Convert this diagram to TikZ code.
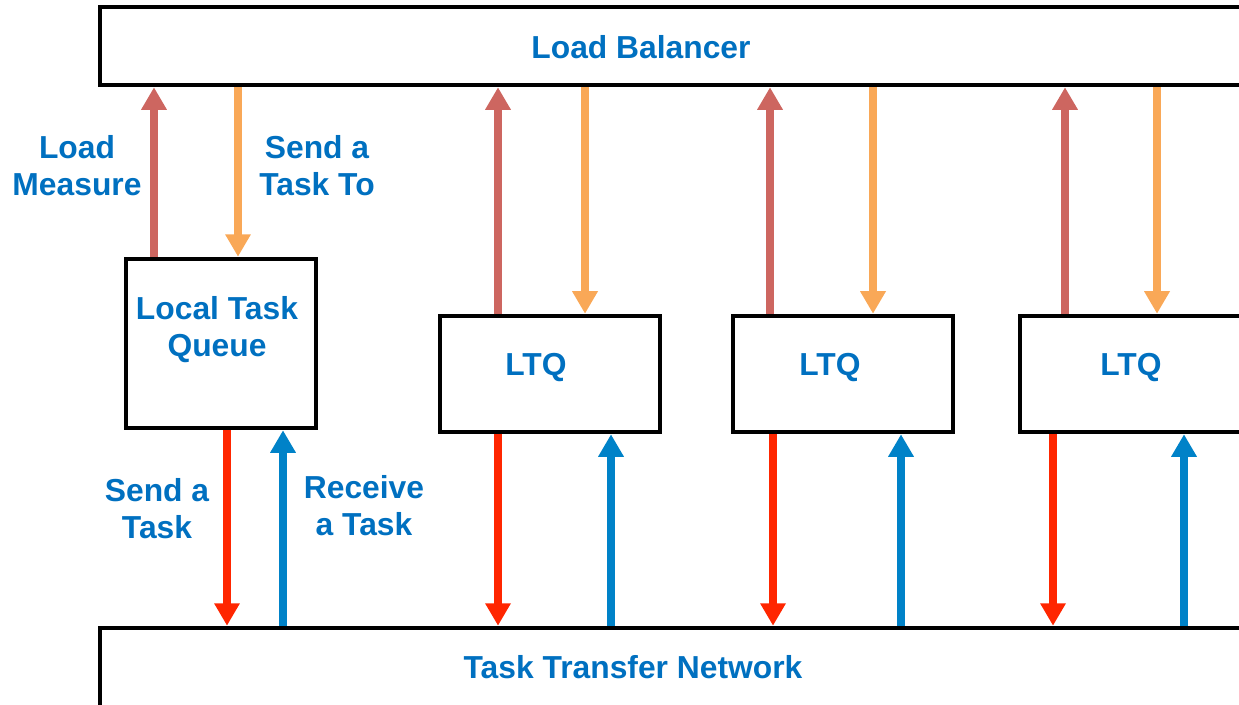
\documentclass[tikz,border=0pt]{standalone}
\usepackage{fontspec}
\setmainfont{Liberation Sans}
\usetikzlibrary{arrows.meta}
\definecolor{txtblue}{HTML}{0070C0}
\definecolor{measurered}{HTML}{CD6660}
\definecolor{sendorange}{HTML}{F9A857}
\definecolor{taskred}{HTML}{FF2600}
\definecolor{taskblue}{HTML}{0082C8}
\tikzset{
  box/.style={draw=black, line width=2.6pt, inner sep=0pt},
  lbl/.style={text=txtblue, font=\bfseries\fontsize{18.1}{21}\selectfont, align=center},
  arr/.style={line width=4.5pt, -{Triangle[width=13.8pt,length=12.8pt]}},
  measure/.style={arr, draw=measurered, fill=measurered},
  sendto/.style={arr, draw=sendorange, fill=sendorange},
  sendtask/.style={arr, draw=taskred, fill=taskred},
  gettask/.style={arr, draw=taskblue, fill=taskblue}
}
\begin{document}
\begin{tikzpicture}[x=0.02cm, y=-0.02cm]
	\useasboundingbox (0,0) rectangle (1239,704);
	\clip (0,0) rectangle (1239,704);

	% balancer and network
	\node[box, minimum width=26cm, minimum height=1.56cm] (lb) at (750,46) {};
	\node[lbl] (lbtxt) at (641,47) {Load Balancer};
	\node[box, minimum width=26cm, minimum height=3.04cm] (net) at (750,704) {};
	\node[lbl] (nettxt) at (633,667) {Task Transfer Network};

	% queues
	\node[box, minimum width=3.8cm, minimum height=3.38cm] (q1) at (221,343.5) {};
	\node[lbl] (q1txt) at (217,330) {Local Task\\Queue};
	\node[box, minimum width=4.4cm, minimum height=2.32cm] (q2) at (550,374) {};
	\node[lbl] (q2txt) at (536,368) {LTQ};
	\node[box, minimum width=4.4cm, minimum height=2.32cm] (q3) at (843,374) {};
	\node[lbl] (q3txt) at (830,368) {LTQ};
	\node[box, minimum width=4.8cm, minimum height=2.32cm] (q4) at (1140,374) {};
	\node[lbl] (q4txt) at (1131,368) {LTQ};

	% arrows to and from the balancer
	\draw[measure] (q1.north -| 154,0) -- (lb.south -| 154,0);
	\draw[sendto] (lb.south -| 238,0) -- (q1.north -| 238,0);
	\draw[measure] (q2.north -| 498,0) -- (lb.south -| 498,0);
	\draw[sendto] (lb.south -| 585,0) -- (q2.north -| 585,0);
	\draw[measure] (q3.north -| 770,0) -- (lb.south -| 770,0);
	\draw[sendto] (lb.south -| 873,0) -- (q3.north -| 873,0);
	\draw[measure] (q4.north -| 1065,0) -- (lb.south -| 1065,0);
	\draw[sendto] (lb.south -| 1157,0) -- (q4.north -| 1157,0);

	% arrows to and from the network
	\draw[sendtask] (q1.south -| 227,0) -- (net.north -| 227,0);
	\draw[gettask] (net.north -| 283,0) -- (q1.south -| 283,0);
	\draw[sendtask] (q2.south -| 498,0) -- (net.north -| 498,0);
	\draw[gettask] (net.north -| 611,0) -- (q2.south -| 611,0);
	\draw[sendtask] (q3.south -| 773,0) -- (net.north -| 773,0);
	\draw[gettask] (net.north -| 901,0) -- (q3.south -| 901,0);
	\draw[sendtask] (q4.south -| 1053,0) -- (net.north -| 1053,0);
	\draw[gettask] (net.north -| 1184,0) -- (q4.south -| 1184,0);

	\node[lbl] (measuretxt) at (77,166) {Load\\Measure};
	\node[lbl] (sendtotxt) at (317,166) {Send a\\Task To};
	\node[lbl] (sendtxt) at (157,509) {Send a\\Task};
	\node[lbl] (gettxt) at (364,506) {Receive\\a Task};
\end{tikzpicture}
\end{document}
